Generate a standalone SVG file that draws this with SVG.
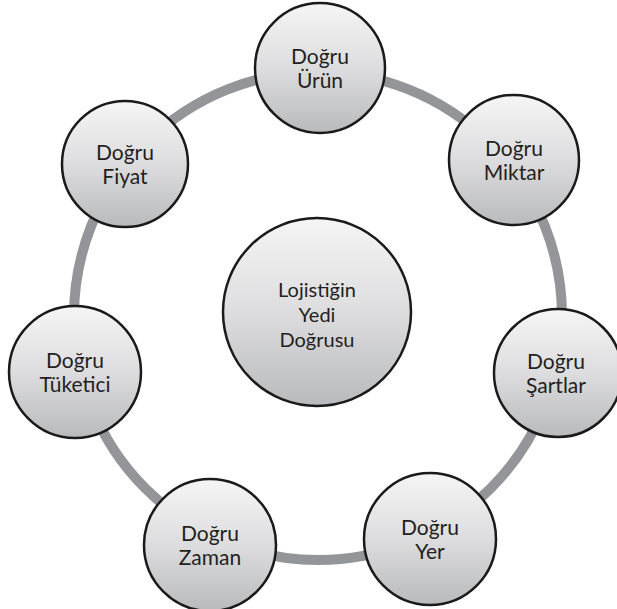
<svg xmlns="http://www.w3.org/2000/svg" width="617" height="609" viewBox="0 0 617 609">
  <defs>
    <linearGradient id="g" x1="0" y1="0" x2="0" y2="1">
      <stop offset="0" stop-color="#f5f5f5"/>
      <stop offset="0.5" stop-color="#dddddf"/>
      <stop offset="1" stop-color="#b9babc"/>
    </linearGradient>
  </defs>
  <style>
    .node { fill: url(#g); stroke: #1a1a1a; stroke-width: 2.5; }
    .ring { fill: none; stroke: #939598; stroke-width: 10; }
    text { font-family: Lato, "Open Sans", "DejaVu Sans", sans-serif; fill: #231f20; text-anchor: middle; font-size: 21px; }
    .center-text { font-size: 20px; }
  </style>
  <rect width="617" height="609" fill="#ffffff"/>
  <g id="connectors">
    <circle class="ring" cx="318" cy="316" r="244"/>
  </g>
  <g id="node-center">
    <circle class="node" cx="317" cy="312" r="94"/>
    <text class="center-text" x="317" y="297">Lojistiğin</text>
    <text class="center-text" x="317" y="322">Yedi</text>
    <text class="center-text" x="317" y="347">Doğrusu</text>
  </g>
  <g id="node-urun">
    <circle class="node" cx="320" cy="68" r="65"/>
    <text x="320" y="64">Doğru</text>
    <text x="320" y="88">Ürün</text>
  </g>
  <g id="node-miktar">
    <circle class="node" cx="514" cy="160" r="65"/>
    <text x="514" y="156">Doğru</text>
    <text x="514" y="180">Miktar</text>
  </g>
  <g id="node-sartlar">
    <circle class="node" cx="558" cy="373" r="64"/>
    <text x="556" y="369">Doğru</text>
    <text x="556" y="393">Şartlar</text>
  </g>
  <g id="node-yer">
    <circle class="node" cx="430" cy="539" r="66"/>
    <text x="430" y="535">Doğru</text>
    <text x="430" y="559">Yer</text>
  </g>
  <g id="node-zaman">
    <circle class="node" cx="210" cy="545" r="66"/>
    <text x="210" y="541">Doğru</text>
    <text x="210" y="565">Zaman</text>
  </g>
  <g id="node-tuketici">
    <circle class="node" cx="75" cy="372" r="66"/>
    <text x="75" y="368">Doğru</text>
    <text x="75" y="392">Tüketici</text>
  </g>
  <g id="node-fiyat">
    <circle class="node" cx="125" cy="164" r="63"/>
    <text x="125" y="160">Doğru</text>
    <text x="125" y="184">Fiyat</text>
  </g>
</svg>
